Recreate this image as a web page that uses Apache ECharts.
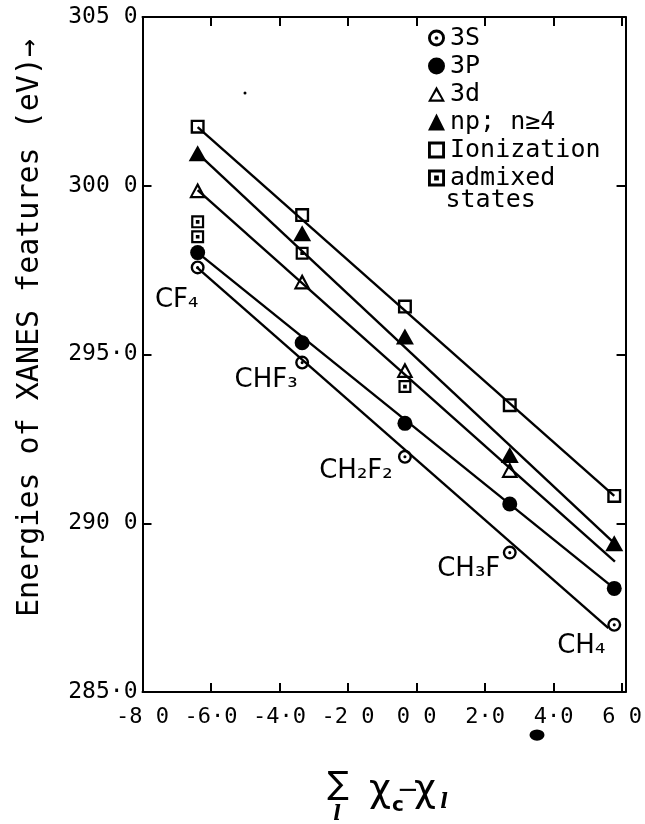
<!DOCTYPE html>
<html><head><meta charset="utf-8">
<script src="https://cdn.jsdelivr.net/npm/echarts@6/dist/echarts.min.js"></script>
<style>html,body{margin:0;padding:0;background:#fff}#c{width:645px;height:824px}</style>
</head><body><div id="c"></div>
<script>
// ---- data ----
const molecules = ['CF₄', 'CHF₃', 'CH₂F₂', 'CH₃F', 'CH₄'];
const moleculeX = [-6.39, -3.34, -0.34, 2.72, 5.77];
const s3 = [297.58, 294.76, 291.97, 289.13, 286.99];
const p3 = [298.02, 295.35, 292.96, 290.57, 288.07];
const d3 = [299.87, 297.16, 294.54, 291.58];
const npN4 = [300.96, 298.59, 295.53, 292.02, 289.41];
const ionization = [301.75, 299.13, 296.42, 293.50, 290.81];
const admixedX = [-6.39, -6.39, -3.34, -0.34];
const admixedY = [298.93, 298.49, 298.00, 294.05];
// fitted straight lines (end points)
const fitIonization = [[-6.39, 301.74], [5.77, 290.81]];
const fitNp = [[-6.39, 300.96], [5.77, 289.41]];
const fit3d = [[-6.39, 299.87], [5.79, 288.86]];
const fit3p = [[-6.39, 298.02], [5.77, 288.07]];
const fit3s = [[-6.42, 297.59], [5.60, 286.89]];
const xTicks = [-8, -6, -4, -2, 0, 2, 4, 6];
const xTickLabels = ['-8 0', '-6·0', '-4·0', '-2 0', '0 0', '2·0', '4·0', '6 0'];
const yTicks = [285, 290, 295, 300, 305];
const yTickLabels = ['285·0', '290 0', '295·0', '300 0', '305 0'];
const seriesNames = ['3S', '3P', '3d', 'np; n≥4', 'Ionization', 'admixed states'];

// ---- styles ----
const MONO = 'DejaVu Sans Mono';
const ringDot = 'path://M50,0 A50,50 0 1 1 50,100 A50,50 0 1 1 50,0 Z M50,17 A33,33 0 1 0 50,83 A33,33 0 1 0 50,17 Z M50,39 A11,11 0 1 1 50,61 A11,11 0 1 1 50,39 Z';
const openSquare = 'path://M0,0 L100,0 L100,100 L0,100 Z M17,17 L17,83 L83,83 L83,17 Z';
const dotSquare = 'path://M0,0 L100,0 L100,100 L0,100 Z M17,17 L17,83 L83,83 L83,17 Z M36,36 L64,36 L64,64 L36,64 Z';
const openTri = 'path://M50,0 L100,92 L0,92 Z M50,28 L20,79 L80,79 Z';
const labelOffsets = [[-21, 33], [-36, 18], [-49, 14], [-41, 17], [-33, 21]];

const zip = (xs, ys) => ys.map((y, i) => [xs[i], y]);
const xLab = v => { const i = xTicks.indexOf(v); return i < 0 ? '' : xTickLabels[i]; };
const yLab = v => { const i = yTicks.indexOf(v); return i < 0 ? '' : yTickLabels[i]; };

const lineSeries = (d) => ({
  type: 'line', data: d, symbol: 'none', silent: true, z: 1,
  lineStyle: { color: '#000', width: 2.4 }, animation: false
});
const scatter = (name, data, symbol, size, extra) => Object.assign({
  type: 'scatter', name, data, symbol, symbolSize: size, z: 3,
  itemStyle: { color: '#000', opacity: 1 }, animation: false
}, extra || {});

const axisCommon = {
  type: 'value',
  axisLine: { show: true, onZero: false, lineStyle: { color: '#000', width: 2 } },
  axisTick: { show: true, inside: true, length: 9, lineStyle: { color: '#000', width: 2 } },
  splitLine: { show: false }
};

const chart = echarts.init(document.getElementById('c'), null, { renderer: 'canvas' });
chart.setOption({
  backgroundColor: '#fff',
  animation: false,
  grid: { left: 142.5, right: 17, top: 17, bottom: 132, containLabel: false },
  xAxis: [
    Object.assign({}, axisCommon, {
      min: -8, max: 6.1, interval: 2, position: 'bottom',
      axisLabel: { formatter: xLab, fontFamily: MONO, fontSize: 22, color: '#000', margin: 14, showMaxLabel: false }
    }),
    Object.assign({}, axisCommon, {
      min: -8, max: 6.1, interval: 2, position: 'top', axisLabel: { show: false }
    })
  ],
  yAxis: [
    Object.assign({}, axisCommon, {
      min: 285, max: 305, interval: 5, position: 'left',
      axisLabel: { formatter: yLab, fontFamily: MONO, fontSize: 23, color: '#000', margin: 5 }
    }),
    Object.assign({}, axisCommon, {
      min: 285, max: 305, interval: 5, position: 'right', axisLabel: { show: false }
    })
  ],
  legend: {
    data: seriesNames,
    orient: 'vertical', left: 423, top: 19,
    itemWidth: 17, itemHeight: 17, itemGap: 0,
    formatter: n => (n === 'admixed states' ? 'admixed' : n),
    textStyle: { fontFamily: MONO, fontSize: 25, color: '#000', lineHeight: 28 },
    selectedMode: false
  },
  series: [
    lineSeries(fitIonization),
    lineSeries(fitNp),
    lineSeries(fit3d),
    lineSeries(fit3p),
    lineSeries(fit3s),
    scatter('3S', zip(moleculeX, s3).map((p, i) => ({
      value: p,
      label: { show: true, position: 'inside', offset: labelOffsets[i], formatter: molecules[i] }
    })), ringDot, 14, {
      label: { fontFamily: 'DejaVu Sans', fontSize: 26, color: '#000', align: 'center', verticalAlign: 'middle' }
    }),
    scatter('3P', zip(moleculeX, p3), 'circle', 15),
    scatter('3d', zip(moleculeX, d3), openTri, [17, 16]),
    scatter('np; n≥4', zip(moleculeX, npN4), 'triangle', [18, 16]),
    scatter('Ionization', zip(moleculeX, ionization), openSquare, 14),
    scatter('admixed states', zip(admixedX, admixedY), dotSquare, 13)
  ],
  graphic: [
    { type: 'text', x: 30, y: 328, rotation: Math.PI / 2,
      style: { text: 'Energies of XANES features (eV)→', font: '30px "DejaVu Sans Mono"', fill: '#000', align: 'center', verticalAlign: 'middle' } },
    { type: 'text', x: 445.5, y: 200,
      style: { text: 'states', font: '25px "DejaVu Sans Mono"', fill: '#000', align: 'left', verticalAlign: 'middle' } },
    { type: 'text', x: 338, y: 786,
      style: { text: '∑', font: '32px "DejaVu Sans"', fill: '#000', align: 'center', verticalAlign: 'middle' } },
    { type: 'text', x: 337, y: 815,
      style: { text: 'l', font: 'italic bold 20px "DejaVu Serif"', fill: '#000', align: 'center', verticalAlign: 'middle' } },
    { type: 'text', x: 380, y: 791,
      style: { text: 'χ', font: '38px "DejaVu Sans"', fill: '#000', align: 'center', verticalAlign: 'middle' } },
    { type: 'text', x: 398, y: 806,
      style: { text: 'c', font: 'bold 20px "DejaVu Sans"', fill: '#000', align: 'center', verticalAlign: 'middle' } },
    { type: 'text', x: 408, y: 791,
      style: { text: '−', font: '26px "DejaVu Sans"', fill: '#000', align: 'center', verticalAlign: 'middle' } },
    { type: 'text', x: 425, y: 791,
      style: { text: 'χ', font: '38px "DejaVu Sans"', fill: '#000', align: 'center', verticalAlign: 'middle' } },
    { type: 'text', x: 444, y: 803,
      style: { text: 'l', font: 'italic bold 20px "DejaVu Serif"', fill: '#000', align: 'center', verticalAlign: 'middle' } },
    { type: 'circle', x: 537, y: 735, scaleY: 0.75, shape: { cx: 0, cy: 0, r: 7.5 }, style: { fill: '#000' } },
    { type: 'circle', x: 245, y: 93, shape: { cx: 0, cy: 0, r: 1.5 }, style: { fill: '#000' } }
  ]
});
</script>
</body></html>
